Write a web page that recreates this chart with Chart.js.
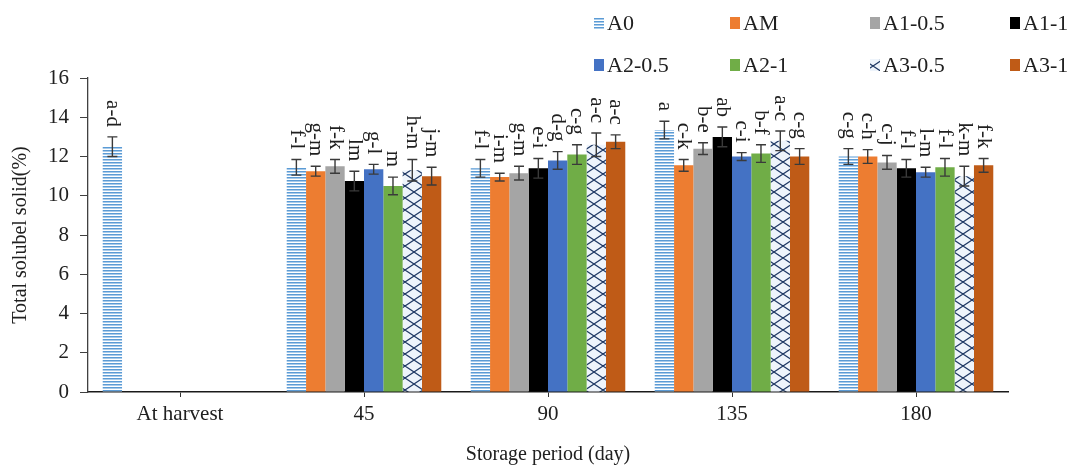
<!DOCTYPE html>
<html>
<head>
<meta charset="utf-8">
<title>Total solubel solid</title>
<script src="https://cdn.jsdelivr.net/npm/chart.js@4.4.1/dist/chart.umd.min.js"></script>
<style>
  html, body { margin: 0; padding: 0; background: #fff; }
  #wrap { width: 1075px; height: 470px; }
</style>
</head>
<body>
<div id="wrap"><canvas id="tssChart" width="1075" height="470"></canvas></div>
<script>
// ==================== DATA ====================

const categories = ['At harvest', '45', '90', '135', '180'];
const seriesNames = ['A0', 'AM', 'A1-0.5', 'A1-1', 'A2-0.5', 'A2-1', 'A3-0.5', 'A3-1'];
const yTickValues = [0, 2, 4, 6, 8, 10, 12, 14, 16];

// mean values per storage period
const valuesA0   = [12.5, 11.45, 11.4, 13.35, 12.0];
const valuesAM   = [null, 11.25, 10.95, 11.55, 12.0];
const valuesA105 = [null, 11.5, 11.15, 12.4, 11.7];
const valuesA11  = [null, 10.75, 11.4, 13.0, 11.4];
const valuesA205 = [null, 11.35, 11.8, 12.0, 11.2];
const valuesA21  = [null, 10.5, 12.1, 12.15, 11.45];
const valuesA305 = [null, 11.3, 12.6, 12.8, 11.0];
const valuesA31  = [null, 11.0, 12.75, 12.0, 11.55];

// standard error (half length of the error bar)
const errorsA0   = [0.5, 0.4, 0.45, 0.45, 0.4];
const errorsAM   = [null, 0.25, 0.2, 0.3, 0.35];
const errorsA105 = [null, 0.35, 0.35, 0.3, 0.35];
const errorsA11  = [null, 0.5, 0.5, 0.5, 0.45];
const errorsA205 = [null, 0.25, 0.45, 0.2, 0.25];
const errorsA21  = [null, 0.45, 0.5, 0.45, 0.45];
const errorsA305 = [null, 0.55, 0.6, 0.5, 0.5];
const errorsA31  = [null, 0.45, 0.35, 0.4, 0.35];

// mean separation letters
const lettersA0   = ['a-d', 'f-l', 'f-l', 'a', 'c-g'];
const lettersAM   = [null, 'g-m', 'i-m', 'c-k', 'c-h'];
const lettersA105 = [null, 'f-k', 'g-m', 'b-e', 'c-j'];
const lettersA11  = [null, 'lm', 'e-i', 'ab', 'f-l'];
const lettersA205 = [null, 'g-l', 'd-g', 'c-i', 'l-m'];
const lettersA21  = [null, 'm', 'c-g', 'b-f', 'f-l'];
const lettersA305 = [null, 'h-m', 'a-c', 'a-c', 'k-m'];
const lettersA31  = [null, 'j-m', 'a-c', 'c-g', 'f-k'];

// ==================== STYLE ====================

const SERIF = "'Liberation Serif', 'Times New Roman', serif";
const TEXT_COLOR = '#202020';

function stripePattern() {
    const c = document.createElement('canvas');
    c.width = 4; c.height = 3;
    const g = c.getContext('2d');
    g.fillStyle = '#ffffff';
    g.fillRect(0, 0, 4, 3);
    g.fillStyle = '#5b9bd5';
    g.fillRect(0, 0, 4, 1);
    g.fillStyle = '#a9cbea';
    g.fillRect(0, 1, 4, 1);
    return g.createPattern(c, 'repeat');
}

function latticePattern() {
    const c = document.createElement('canvas');
    c.width = 18; c.height = 12;
    const g = c.getContext('2d');
    g.fillStyle = '#eef4fb';
    g.fillRect(0, 0, 18, 12);
    g.strokeStyle = '#1f3864';
    g.lineWidth = 1.2;
    g.beginPath();
    g.moveTo(0, 0); g.lineTo(9, 6); g.lineTo(18, 0);
    g.moveTo(0, 12); g.lineTo(9, 6); g.lineTo(18, 12);
    g.stroke();
    return g.createPattern(c, 'repeat');
}

const fills = [
    stripePattern(), '#ed7d31', '#a5a5a5', '#000000',
    '#4472c4', '#70ad47', latticePattern(), '#bf5b17'
];

const allValues  = [valuesA0, valuesAM, valuesA105, valuesA11, valuesA205, valuesA21, valuesA305, valuesA31];
const allErrors  = [errorsA0, errorsAM, errorsA105, errorsA11, errorsA205, errorsA21, errorsA305, errorsA31];
const allLetters = [lettersA0, lettersAM, lettersA105, lettersA11, lettersA205, lettersA21, lettersA305, lettersA31];

// legend grid (x of marker, y of row centre)
const legendCols = [594, 730, 870, 1010];
const legendRows = [23, 65];

// ==================== PLUGINS ====================

const errorBarsAndLetters = {
    id: 'errorBarsAndLetters',
    afterDatasetsDraw(chart) {
        const ctx = chart.ctx;
        const y = chart.scales.y;
        ctx.save();
        chart.data.datasets.forEach((ds, i) => {
            const meta = chart.getDatasetMeta(i);
            meta.data.forEach((bar, j) => {
                const v = ds.data[j];
                if (v === null || v === undefined) return;
                const err = allErrors[i][j];
                const yHi = y.getPixelForValue(v + err);
                const yLo = y.getPixelForValue(v - err);
                const x = bar.x;

                ctx.strokeStyle = '#3a3a3a';
                ctx.lineWidth = 1.4;
                ctx.beginPath();
                ctx.moveTo(x, yLo); ctx.lineTo(x, yHi);
                ctx.moveTo(x - 5, yHi); ctx.lineTo(x + 5, yHi);
                ctx.moveTo(x - 5, yLo); ctx.lineTo(x + 5, yLo);
                ctx.stroke();

                const txt = allLetters[i][j];
                if (!txt) return;
                ctx.save();
                ctx.translate(x, yHi - 10);
                ctx.rotate(Math.PI / 2);
                ctx.font = '21px ' + SERIF;
                ctx.fillStyle = TEXT_COLOR;
                ctx.textAlign = 'right';
                ctx.textBaseline = 'middle';
                ctx.fillText(txt, 0, 0);
                ctx.restore();
            });
        });
        ctx.restore();
    }
};

const gridLegend = {
    id: 'gridLegend',
    afterDraw(chart) {
        const ctx = chart.ctx;
        ctx.save();
        ctx.font = '22px ' + SERIF;
        ctx.textBaseline = 'middle';
        ctx.textAlign = 'left';
        chart.data.datasets.forEach((ds, i) => {
            const x = legendCols[i % 4];
            const yc = legendRows[Math.floor(i / 4)];
            ctx.fillStyle = ds.backgroundColor;
            ctx.fillRect(x, yc - 6, 10, 12);
            ctx.fillStyle = TEXT_COLOR;
            ctx.fillText(ds.label, x + 13, yc + 1);
        });
        ctx.restore();
    }
};

// ==================== CHART ====================

const datasets = seriesNames.map((name, i) => ({
    label: name,
    data: allValues[i],
    backgroundColor: fills[i],
    borderWidth: 0,
    categoryPercentage: 0.84,
    barPercentage: 1.0
}));

new Chart(document.getElementById('tssChart'), {
    type: 'bar',
    data: { labels: categories, datasets },
    options: {
        responsive: false,
        animation: false,
        devicePixelRatio: 1,
        layout: { padding: { top: 78, right: 67, bottom: 0, left: 0 } },
        plugins: {
            legend: { display: false },
            tooltip: { enabled: false }
        },
        scales: {
            x: {
                afterFit: (s) => { s.height = 78; },
                grid: { offset: false, drawOnChartArea: false, drawTicks: true, tickLength: 5, color: '#333' },
                border: { color: '#1a1a1a', width: 1.6 },
                ticks: { color: TEXT_COLOR, padding: 5, font: { family: SERIF, size: 21 } },
                title: {
                    display: true,
                    text: 'Storage period (day)',
                    color: TEXT_COLOR,
                    font: { family: SERIF, size: 20 },
                    padding: { top: 4, bottom: 3 }
                }
            },
            y: {
                min: 0,
                max: 16,
                afterFit: (s) => { s.width = 88; },
                afterBuildTicks: (s) => { s.ticks = yTickValues.map(v => ({ value: v })); },
                grid: { drawOnChartArea: false, drawTicks: true, tickLength: 8, color: '#404040' },
                border: { color: '#404040', width: 1.3 },
                ticks: { color: TEXT_COLOR, padding: 11, font: { family: SERIF, size: 21 } },
                title: {
                    display: true,
                    text: 'Total solubel solid(%)',
                    color: TEXT_COLOR,
                    font: { family: SERIF, size: 20 },
                    padding: { top: 9, bottom: 4 }
                }
            }
        }
    },
    plugins: [errorBarsAndLetters, gridLegend]
});
</script>
</body>
</html>
